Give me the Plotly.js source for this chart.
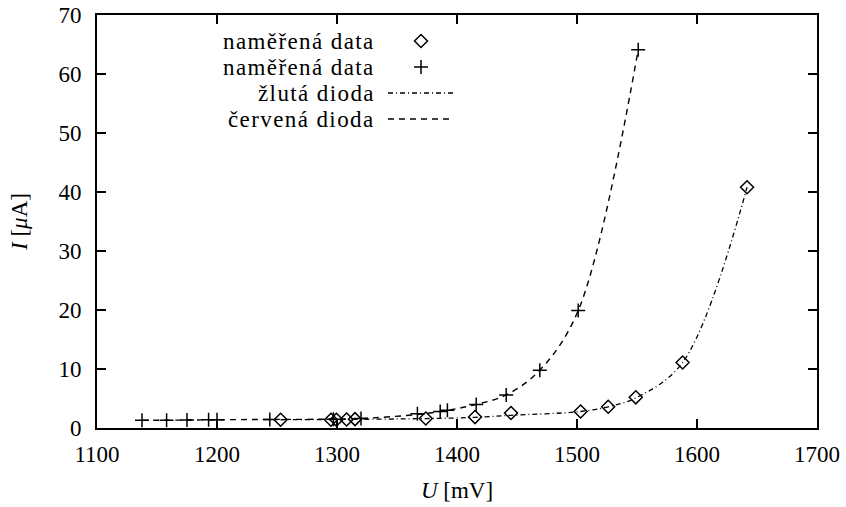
<!DOCTYPE html>
<html>
<head>
<meta charset="utf-8">
<script src="https://cdn.plot.ly/plotly-3.0.1.min.js"></script>
<style>
html,body{margin:0;padding:0;background:#fff;}
#chart{width:846px;height:507px;}
.annotation-text{letter-spacing:1.4px;}
</style>
</head>
<body>
<div id="chart"></div>
<script>
// measured data – red diode (+)
const redU = [1137.5, 1158, 1175, 1193, 1200, 1244, 1297, 1320, 1367, 1386, 1392, 1416, 1441, 1469, 1501, 1551];
const redI = [1.3, 1.3, 1.35, 1.4, 1.4, 1.45, 1.5, 1.6, 2.4, 2.8, 3.0, 4.0, 5.6, 9.8, 19.9, 64.1];
// measured data – yellow diode (diamonds)
const yelU = [1253, 1295, 1299.5, 1308, 1315, 1374, 1415, 1445, 1503, 1526, 1549, 1588, 1641.7];
const yelI = [1.4, 1.4, 1.4, 1.45, 1.5, 1.6, 1.85, 2.55, 2.8, 3.6, 5.2, 11.1, 40.8];
// fitted curves
const redFitU = [1137.5, 1175, 1200, 1244, 1297, 1320, 1367, 1392, 1416, 1441, 1469, 1501, 1551];
const redFitI = [1.3, 1.35, 1.4, 1.45, 1.5, 1.6, 2.3, 3.0, 4.0, 5.6, 9.8, 19.9, 64.1];
const yelFitU = [1253, 1300, 1374, 1415, 1445, 1503, 1526, 1549, 1588, 1641.7];
const yelFitI = [1.4, 1.45, 1.6, 1.8, 2.15, 2.8, 3.6, 5.1, 11.1, 40.8];
// labels
const legendLabels = ["naměřená data", "naměřená data", "žlutá dioda", "červená dioda"];
const xTitle = "<i>U</i> [mV]";
const yTitle = "<i>I</i> [<i>μ</i>A]";

const FONT = "Liberation Serif";
const FS = 23;
const dashRed = "6px,5px";
const dashYel = "5px,3px,1px,3px";

const traces = [
  {x: yelFitU, y: yelFitI, mode: "lines", line: {color: "#000", width: 1.3, dash: dashYel, shape: "spline"}, hoverinfo: "skip"},
  {x: redFitU, y: redFitI, mode: "lines", line: {color: "#000", width: 1.4, dash: dashRed, shape: "spline"}, hoverinfo: "skip"},
  {x: yelU, y: yelI, mode: "markers", marker: {symbol: "diamond-open", size: 10, color: "#000", line: {width: 1.5, color: "#000"}}},
  {x: redU, y: redI, mode: "markers", marker: {symbol: "cross-thin-open", size: 10, color: "#000", line: {width: 1.5, color: "#000"}}},
  // legend sample markers on pixel-like overlay axes
  {x: [421], y: [41], xaxis: "x2", yaxis: "y2", mode: "markers", marker: {symbol: "diamond-open", size: 10, color: "#000", line: {width: 1.5, color: "#000"}}, hoverinfo: "skip"},
  {x: [421], y: [67], xaxis: "x2", yaxis: "y2", mode: "markers", marker: {symbol: "cross-thin-open", size: 10, color: "#000", line: {width: 1.5, color: "#000"}}, hoverinfo: "skip"}
];

const rows = [41, 67, 93, 119];
const annotations = legendLabels.map((t, i) => ({
  x: 377, y: rows[i], xref: "x2", yref: "y2", text: t, showarrow: false,
  xanchor: "right", yanchor: "middle", align: "right",
  font: {family: FONT, size: FS, color: "#000"}
}));

const shapes = [
  {type: "line", xref: "x2", yref: "y2", x0: 388, x1: 453, y0: rows[2], y1: rows[2], line: {color: "#000", width: 1.3, dash: dashYel}},
  {type: "line", xref: "x2", yref: "y2", x0: 388, x1: 453, y0: rows[3], y1: rows[3], line: {color: "#000", width: 1.4, dash: dashRed}}
];

const axisCommon = {
  showgrid: false, zeroline: false, showline: true, linecolor: "#000", linewidth: 2,
  mirror: "ticks", ticks: "inside", ticklen: 9, tickwidth: 1.5, tickcolor: "#000",
  tickfont: {family: FONT, size: FS, color: "#000"}
};

const layout = {
  width: 846, height: 507,
  margin: {l: 97, r: 29, t: 15, b: 79, pad: 0},
  paper_bgcolor: "#fff", plot_bgcolor: "#fff",
  font: {family: FONT, size: FS, color: "#000"},
  showlegend: false,
  xaxis: Object.assign({}, axisCommon, {range: [1100, 1700], dtick: 100, tick0: 1100, ticklabelstandoff: 4,
    title: {text: xTitle, font: {family: FONT, size: FS, color: "#000"}, standoff: 16}}),
  yaxis: Object.assign({}, axisCommon, {range: [0, 70], dtick: 10, tick0: 0, ticklabelstandoff: 9,
    title: {text: yTitle, font: {family: FONT, size: FS, color: "#000"}, standoff: 24}}),
  xaxis2: {overlaying: "x", range: [97, 817], visible: false, fixedrange: true},
  yaxis2: {overlaying: "y", range: [428, 15], visible: false, fixedrange: true},
  annotations: annotations,
  shapes: shapes
};

Plotly.newPlot("chart", traces, layout, {displayModeBar: false, staticPlot: true});
</script>
</body>
</html>
